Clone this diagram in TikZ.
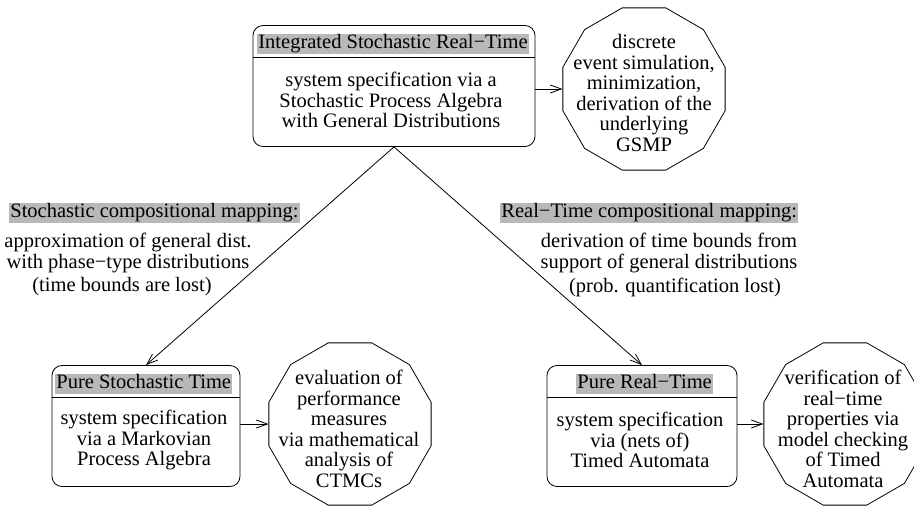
\documentclass[tikz,border=0pt]{standalone}
\usepackage{fontspec}
\setmainfont{Liberation Serif}
\usetikzlibrary{shapes.geometric,arrows.meta}
\definecolor{hdrgray}{gray}{0.72}
\tikzset{
  modelbox/.style={draw, rounded corners=10pt, minimum height=121pt, inner sep=0pt},
  hdr/.style={fill=hdrgray, anchor=west, inner xsep=1pt, inner ysep=0.5pt, text height=14.5pt, text depth=5pt},
  body/.style={align=center, inner sep=0pt},
  analysis/.style={draw, regular polygon, regular polygon sides=12, minimum size=168pt, inner sep=0pt},
  map/.style={-{Straight Barb[length=11pt,width=8pt]}}
}

\begin{document}
\begin{tikzpicture}[x=1pt, y=-1pt, line width=0.8pt,
  every node/.append style={font=\fontsize{20.5}{20.5}\selectfont}]
			\useasboundingbox (0,0) rectangle (914,508);
			
			\node[modelbox, minimum width=282pt] (isrt) at (394,86) {};
			\node[hdr] (isrt-h) at (257,44) {Integrated Stochastic Real−Time\hspace{7pt}};
			\draw ([yshift=-3pt]isrt-h.south -| isrt.west) -- ([yshift=-3pt]isrt-h.south -| isrt.east);
			\node[body] (isrt-b) at (391,100) {system specification via a\\Stochastic Process Algebra\\with General Distributions};
			
			\node[analysis] (gsmp) at (644,89) {};
			\node[body] (gsmp-t) at (644,93) {discrete\\event simulation,\\minimization,\\derivation of the\\underlying\\GSMP};
			
			\node[modelbox, minimum width=188pt] (pst) at (146,426) {};
			\node[hdr] (pst-h) at (55,384) {Pure Stochastic Time\hspace{7pt}};
			\draw ([yshift=-3pt]pst-h.south -| pst.west) -- ([yshift=-3pt]pst-h.south -| pst.east);
			\node[body] (pst-b) at (144,440) {system specification\\via a Markovian\\Process Algebra};
			
			\node[analysis] (ctmc) at (350,424) {};
			\node[body] (ctmc-t) at (349,429) {evaluation of\\performance\\measures\\via mathematical\\analysis of\\CTMCs};
			
			\node[modelbox, minimum width=190pt] (prt) at (642,426) {};
			\node[hdr] (prt-h) at (576,384) {Pure Real−Time\hspace{7pt}};
			\draw ([yshift=-3pt]prt-h.south -| prt.west) -- ([yshift=-3pt]prt-h.south -| prt.east);
			\node[body] (prt-b) at (640,440) {system specification\\via (nets of)\\Timed Automata};
			
			\node[analysis] (tacheck) at (845,424) {};
			\node[body] (tacheck-t) at (843,429) {verification of\\real−time\\properties via\\model checking\\of Timed\\Automata};
			
			\node[hdr] (smap) at (9,213) {Stochastic compositional mapping:\hspace{3pt}};
			\node[body] (smap-d) at (128,253) {approximation of general dist.\\with phase−type distributions};
			\node[body] (smap-l) at (122,287) {(time bounds are lost)};
			
			\node[hdr] (rmap) at (500,213) {Real−Time compositional mapping:\hspace{8pt}};
			\node[body] (rmap-d) at (669,253) {derivation of time bounds from\\support of general distributions};
			\node[body] (rmap-l) at (675,287) {(prob. quantification lost)};
			
			\draw[map] (isrt.east |- gsmp.west) -- (gsmp.west);
			\draw[map] (isrt.south) -- (pst.north);
			\draw[map] (isrt.south) -- (prt.north);
			\draw[map] (pst.east |- ctmc.west) -- (ctmc.west);
			\draw[map] (prt.east |- tacheck.west) -- (tacheck.west);
			\end{tikzpicture}
\end{document}
